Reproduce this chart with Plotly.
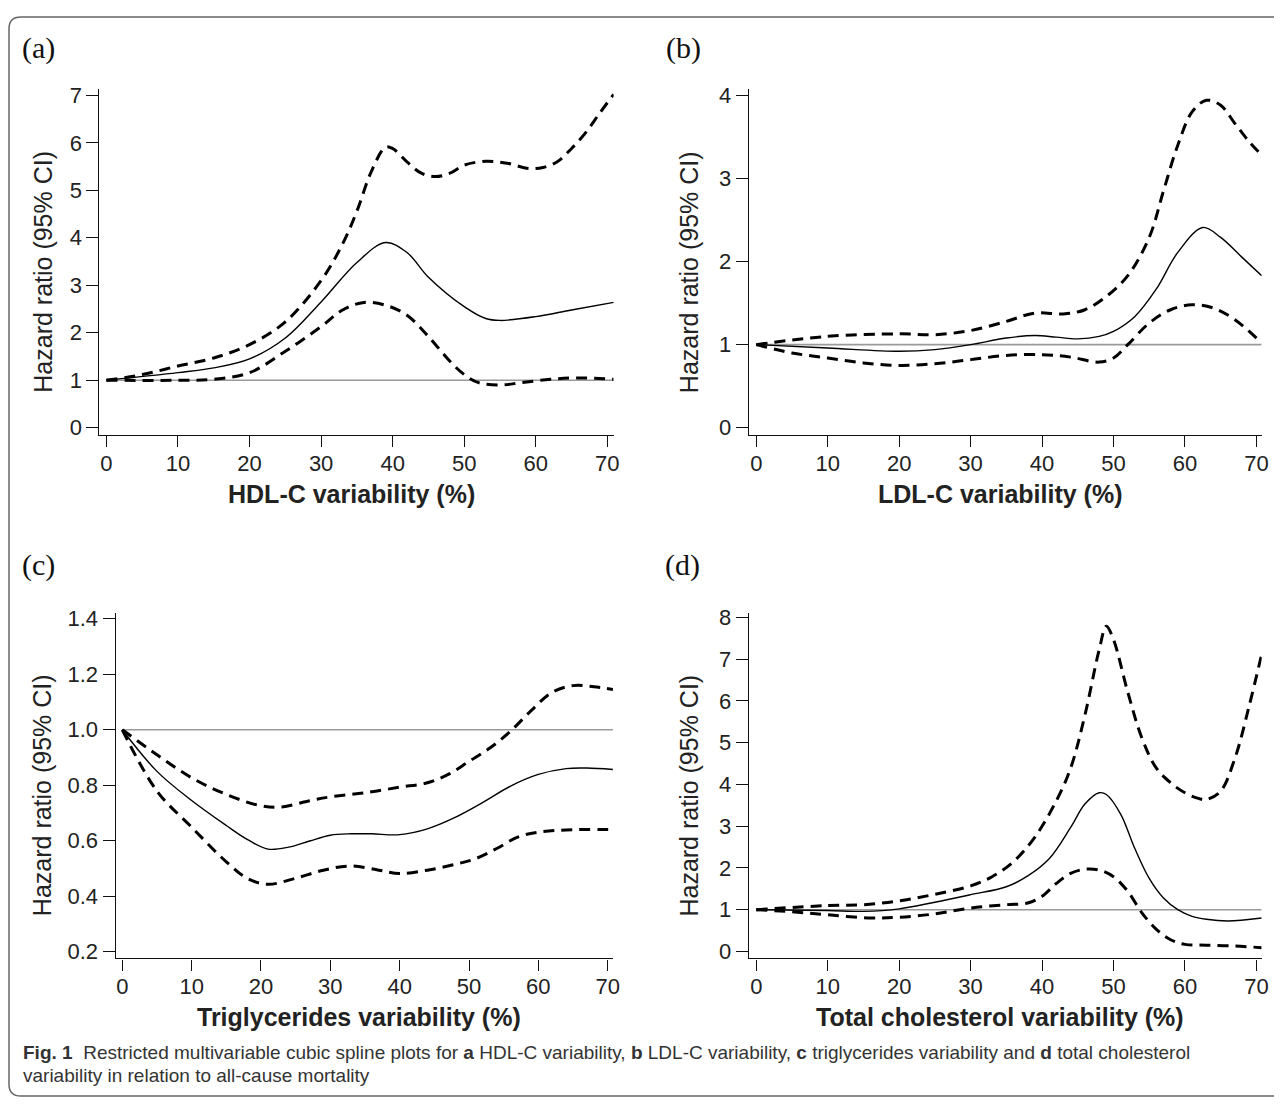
import plotly.graph_objects as go

# ---------------- data ----------------
# Panel a: HDL-C
a_hr_x = [0, 10, 15, 20, 25, 30, 35, 39, 42, 45, 50, 53, 55, 60, 65, 70.88]
a_hr_y = [1.0, 1.16, 1.26, 1.45, 1.89, 2.65, 3.48, 3.90, 3.69, 3.17, 2.55, 2.30, 2.26, 2.34, 2.48, 2.64]
a_up_x = [0, 5, 10, 15, 20, 25, 30, 33, 35, 37, 39, 40, 42, 44, 46, 48, 50, 53, 56, 59, 61, 63, 65, 67, 69, 70.88]
a_up_y = [1.0, 1.12, 1.30, 1.47, 1.75, 2.23, 3.10, 3.87, 4.56, 5.39, 5.91, 5.88, 5.60, 5.36, 5.29, 5.36, 5.53, 5.61, 5.57, 5.46, 5.48, 5.60, 5.88, 6.22, 6.64, 7.02]
a_lo_x = [0, 10, 15, 20, 25, 30, 33, 36, 39, 42, 45, 48, 50, 52, 55, 58, 62, 66, 70.88]
a_lo_y = [1.0, 1.0, 1.02, 1.16, 1.61, 2.13, 2.48, 2.64, 2.58, 2.37, 1.92, 1.40, 1.12, 0.95, 0.90, 0.95, 1.02, 1.05, 1.02]

# Panel b: LDL-C
b_hr_x = [0, 10, 20, 25, 30, 35, 39, 42, 45, 48, 50, 53, 56, 59, 62.5, 65, 68, 70.74]
b_hr_y = [1.0, 0.96, 0.92, 0.94, 1.0, 1.08, 1.11, 1.09, 1.07, 1.10, 1.16, 1.34, 1.67, 2.11, 2.41, 2.29, 2.05, 1.83]
b_up_x = [0, 10, 20, 25, 30, 35, 39, 43, 46, 49, 52, 55, 57, 59, 61, 63, 65, 67, 69, 70.74]
b_up_y = [1.0, 1.10, 1.13, 1.12, 1.17, 1.28, 1.38, 1.37, 1.42, 1.58, 1.83, 2.29, 2.85, 3.40, 3.80, 3.94, 3.88, 3.66, 3.44, 3.28]
b_lo_x = [0, 5, 10, 15, 20, 25, 30, 35, 40, 44, 48, 50, 52, 55, 58, 61, 64, 67, 70.74]
b_lo_y = [1.0, 0.90, 0.84, 0.78, 0.75, 0.77, 0.82, 0.87, 0.88, 0.85, 0.79, 0.84, 1.0, 1.26, 1.42, 1.48, 1.44, 1.30, 1.02]

# Panel c: Triglycerides
c_hr_x = [0, 5, 10, 15, 18, 21, 24, 27, 30, 33, 36, 40, 44, 48, 52, 56, 60, 64, 67, 70.76]
c_hr_y = [1.0, 0.85, 0.745, 0.655, 0.605, 0.57, 0.577, 0.599, 0.62, 0.625, 0.625, 0.622, 0.643, 0.684, 0.738, 0.797, 0.839, 0.86, 0.862, 0.857]
c_up_x = [0, 5, 10, 15, 20, 23, 27, 30, 35, 40, 44, 47, 50, 53, 56, 59, 62, 65, 68, 70.76]
c_up_y = [1.0, 0.91, 0.827, 0.767, 0.726, 0.722, 0.744, 0.758, 0.773, 0.793, 0.809, 0.839, 0.886, 0.934, 0.995, 1.07, 1.135, 1.159, 1.155, 1.145]
c_lo_x = [0, 5, 10, 15, 18, 21, 25, 29, 33, 37, 40, 44, 48, 51, 54, 57, 60, 64, 70.76]
c_lo_y = [1.0, 0.779, 0.649, 0.524, 0.465, 0.443, 0.465, 0.494, 0.509, 0.494, 0.482, 0.494, 0.515, 0.536, 0.572, 0.613, 0.631, 0.639, 0.640]

# Panel d: Total cholesterol
d_hr_x = [0, 10, 15, 20, 25, 30, 35, 38, 41, 44, 46, 48, 49, 51, 53, 55, 57, 59, 61, 63, 66, 70.74]
d_hr_y = [1.0, 0.98, 0.96, 1.02, 1.18, 1.36, 1.55, 1.81, 2.22, 2.97, 3.53, 3.80, 3.76, 3.29, 2.46, 1.75, 1.28, 1.0, 0.84, 0.77, 0.73, 0.80]
d_up_x = [0, 10, 15, 20, 25, 30, 33, 36, 39, 42, 44, 46, 48, 49, 50, 52, 54, 56, 58, 60, 62, 63, 65, 67, 69, 70.74]
d_up_y = [1.0, 1.10, 1.12, 1.21, 1.37, 1.57, 1.79, 2.15, 2.74, 3.61, 4.39, 5.66, 7.23, 7.79, 7.47, 6.21, 5.10, 4.39, 4.04, 3.80, 3.66, 3.64, 3.84, 4.63, 5.89, 7.12]
d_lo_x = [0, 5, 10, 16, 20, 25, 30, 35, 38, 40, 42, 44, 46, 48, 50, 52, 54, 56, 58, 60, 63, 67, 70.74]
d_lo_y = [1.0, 0.95, 0.88, 0.80, 0.82, 0.90, 1.04, 1.12, 1.16, 1.32, 1.63, 1.87, 1.97, 1.95, 1.79, 1.44, 0.92, 0.53, 0.28, 0.17, 0.15, 0.13, 0.09]

x_ticks = [0, 10, 20, 30, 40, 50, 60, 70]
a_yticks = [0, 1, 2, 3, 4, 5, 6, 7]
b_yticks = [0, 1, 2, 3, 4]
c_yticks = [0.2, 0.4, 0.6, 0.8, 1.0, 1.2, 1.4]
d_yticks = [0, 1, 2, 3, 4, 5, 6, 7, 8]

x_titles = ["HDL-C variability (%)", "LDL-C variability (%)",
            "Triglycerides variability (%)", "Total cholesterol variability (%)"]
panel_labels = ["(a)", "(b)", "(c)", "(d)"]
y_title = "Hazard ratio (95% CI)"

# ---------------- layout geometry ----------------
# page body has an 8px margin: reference pixel X is drawn at figure pixel X - 8
OFF = 8
W, H = 1282 - OFF, 1105 - OFF

def px_x(p):
    return (p - OFF) / W

def px_y(p):
    return 1 - (p - OFF) / H

panels = [
    dict(x0=100, x1=617, y0=82.7, y1=433.3, xr=[-0.97, 70.88], yr=[-0.158, 7.137], yt=a_yticks, fmt=None,
         data=(a_hr_x, a_hr_y, a_up_x, a_up_y, a_lo_x, a_lo_y)),
    dict(x0=753, x1=1268.6, y0=82.7, y1=433.3, xr=[-1.03, 70.74], yr=[-0.09, 4.078], yt=b_yticks, fmt=None,
         data=(b_hr_x, b_hr_y, b_up_x, b_up_y, b_lo_x, b_lo_y)),
    dict(x0=116.3, x1=616.3, y0=612.7, y1=962.7, xr=[-0.95, 70.76], yr=[0.1761, 1.4224], yt=c_yticks, fmt=".1f",
         data=(c_hr_x, c_hr_y, c_up_x, c_up_y, c_lo_x, c_lo_y)),
    dict(x0=753, x1=1268.6, y0=612.7, y1=962.7, xr=[-1.03, 70.74], yr=[-0.166, 8.118], yt=d_yticks, fmt=None,
         data=(d_hr_x, d_hr_y, d_up_x, d_up_y, d_lo_x, d_lo_y)),
]

FONT = "Liberation Sans, Arial, sans-serif"

fig = go.Figure()
annotations = []
layout_axes = {}

for i, p in enumerate(panels):
    n = i + 1
    xa = "x" if n == 1 else f"x{n}"
    ya = "y" if n == 1 else f"y{n}"
    hx, hy, ux, uy, lx, ly = p["data"]
    # reference line at HR = 1
    fig.add_trace(go.Scatter(x=[0, p["xr"][1]], y=[1, 1], mode="lines",
                             line=dict(color="#9a9a9a", width=1.6),
                             xaxis=xa, yaxis=ya, showlegend=False, hoverinfo="skip"))
    for xs, ys in ((ux, uy), (lx, ly)):
        fig.add_trace(go.Scatter(x=xs, y=ys, mode="lines", line_shape="spline",
                                 line=dict(color="black", width=3, dash="11px,7px"),
                                 xaxis=xa, yaxis=ya, showlegend=False))
    fig.add_trace(go.Scatter(x=hx, y=hy, mode="lines", line_shape="spline",
                             line=dict(color="black", width=1.4),
                             xaxis=xa, yaxis=ya, showlegend=False))

    xkey = "xaxis" if n == 1 else f"xaxis{n}"
    ykey = "yaxis" if n == 1 else f"yaxis{n}"
    layout_axes[xkey] = dict(
        domain=[px_x(p["x0"]), px_x(p["x1"])], anchor=ya, range=p["xr"],
        tickvals=x_ticks, showline=True, linecolor="#111", linewidth=1.4,
        ticks="outside", ticklen=11, tickwidth=1.4, tickcolor="#111",
        ticklabelstandoff=-3,
        showgrid=False, zeroline=False,
        tickfont=dict(family=FONT, size=22, color="#222"))
    yax = dict(
        domain=[px_y(p["y1"]), px_y(p["y0"])], anchor=xa, range=p["yr"],
        tickvals=p["yt"],
        showline=True, linecolor="#111", linewidth=1.4,
        ticks="outside", ticklen=12, tickwidth=1.4, tickcolor="#111",
        showgrid=False, zeroline=False,
        tickfont=dict(family=FONT, size=22, color="#222"))
    if p["fmt"]:
        yax["tickformat"] = p["fmt"]
    layout_axes[ykey] = yax

    # x title
    annotations.append(dict(x=px_x((p["x0"] + p["x1"]) / 2 - 5), y=px_y(p["y1"] + 59),
                            xref="paper", yref="paper", text=f"<b>{x_titles[i]}</b>",
                            showarrow=False, xanchor="center", yanchor="middle",
                            font=dict(family=FONT, size=25, color="#222")))
    # y title
    ytx = 43 if i % 2 == 0 else 693
    annotations.append(dict(x=px_x(ytx), y=px_y((p["y0"] + p["y1"]) / 2 + 10),
                            xref="paper", yref="paper", text=y_title, textangle=-90,
                            showarrow=False, xanchor="center", yanchor="middle",
                            font=dict(family=FONT, size=25, color="#222")))

# panel labels
for lab, (lx_, ly_) in zip(panel_labels, [(39, 41), (687, 41), (39, 565), (686, 565)]):
    annotations.append(dict(x=px_x(lx_), y=px_y(ly_), xref="paper", yref="paper",
                            text=lab, showarrow=False, xanchor="center", yanchor="middle",
                            font=dict(family="Liberation Serif, serif", size=30, color="#111")))

# caption
caption1 = ("<b>Fig. 1</b>  Restricted multivariable cubic spline plots for <b>a</b> HDL-C variability, "
            "<b>b</b> LDL-C variability, <b>c</b> triglycerides variability and <b>d</b> total cholesterol")
caption2 = "variability in relation to all-cause mortality"
annotations.append(dict(x=px_x(21), y=px_y(1058), xref="paper", yref="paper", text=caption1,
                        showarrow=False, xanchor="left", yanchor="middle",
                        font=dict(family=FONT, size=19, color="#333")))
annotations.append(dict(x=px_x(21), y=px_y(1081), xref="paper", yref="paper", text=caption2,
                        showarrow=False, xanchor="left", yanchor="middle",
                        font=dict(family=FONT, size=19, color="#333")))

# rounded frame around the figure
r = 12
L, T, R, B = 9, 10, 1300, 1102
def P(x, y):
    return f"{px_x(x):.5f},{px_y(y):.5f}"
path = (f"M {P(L + r, T)} L {P(R - r, T)} Q {P(R, T)} {P(R, T + r)} "
        f"L {P(R, B - r)} Q {P(R, B)} {P(R - r, B)} L {P(L + r, B)} "
        f"Q {P(L, B)} {P(L, B - r)} L {P(L, T + r)} Q {P(L, T)} {P(L + r, T)} Z")

fig.update_layout(
    width=W, height=H, margin=dict(l=0, r=0, t=0, b=0),
    paper_bgcolor="white", plot_bgcolor="white",
    annotations=annotations,
    shapes=[dict(type="path", path=path, xref="paper", yref="paper",
                 line=dict(color="#666", width=1.5))],
    **layout_axes,
)

fig.write_html("out.html")
